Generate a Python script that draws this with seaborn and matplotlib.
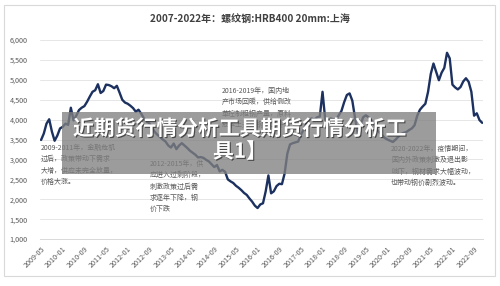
import pandas as pd
import seaborn as sns
import matplotlib.pyplot as plt
import matplotlib.patheffects as pe
from matplotlib.patches import Rectangle

# Monthly rebar price, Shanghai HRB400 20mm (yuan/ton), from 2009-05
prices = [
    3490, 3650, 3900, 4010, 3700, 3470, 3600, 3780, 3820, 3900,
    3870, 4300, 3980, 4100, 4240, 4300, 4340, 4450, 4580, 4700,
    4740, 4890, 4670, 4720, 4880, 4870, 4840, 4790, 4850, 4680,
    4500, 4430, 4400, 4350, 4290, 4200, 4250, 4150, 4030, 3950,
    3910, 3800, 3690, 3620, 3560, 3500, 3450, 3350, 3300, 3400,
    3260, 3350, 3410, 3350, 3290, 3220, 3170, 3120, 3050, 3060,
    3040, 2990, 2950, 2880, 2810, 2860, 2700, 2740, 2690, 2500,
    2450, 2410, 2340, 2290, 2230, 2160, 2110, 2020, 1940, 1840,
    1780, 1870, 1900, 2200, 2600, 2150, 2200, 2330, 2390, 2380,
    2650, 3150, 3380, 3410, 3430, 3450, 3620, 3750, 3920, 4010,
    4030, 4000, 4060, 4080, 4700, 4000, 3910, 4030, 4010, 3990,
    4110, 4220, 4440, 4620, 4660, 4480, 4050, 3660, 3860, 4060,
    4110, 4060, 3990, 3880, 3760, 3680, 3610, 3540, 3500, 3470,
    3440, 3500, 3570, 3640, 3670, 3690, 3740, 3780, 3860, 4100,
    4250, 4330, 4400, 4700, 5150, 5410, 5200, 4990, 5180, 5300,
    5680, 5540, 4880, 4810, 4760, 4820, 4960, 5040, 4950, 4700,
    4100, 4160, 3990, 3920,
]
months = pd.period_range("2009-05", periods=len(prices), freq="M").strftime("%Y-%m").tolist()

y_ticks = [1000, 1500, 2000, 2500, 3000, 3500, 4000, 4500, 5000, 5500, 6000]

title = "2007-2022年：螺纹钢:HRB400 20mm:上海"
notes = [
    "2009-2011年，金融危机\n过后，政策带动下需求\n大增，供应未完全放量，\n价格大涨。",
    "2012-2015年，供\n应进入过剩阶段，\n刺激政策过后需\n求逐年下降，钢\n价下跌",
    "2016-2019年，国内地\n产市场回暖，供给侧改\n革控制粗钢产量，原料\n成本上升，钢价回升。",
    "2020-2022年，疫情期间，\n国内外政策刺激及退出影\n响下，钢材需求大幅波动，\n也带动钢价剧烈波动。",
]
banner = "近期货行情分析工具期货行情分析工\n具1】"

df = pd.DataFrame({"idx": range(len(prices)), "month": months, "price": prices})

sns.set_theme(style="white")
plt.rcParams["font.family"] = ["Noto Sans CJK SC", "DejaVu Sans"]

fig = plt.figure(figsize=(5, 2.86), dpi=100)
ax = fig.add_axes([0.08, 0.164, 0.886, 0.696])

sns.lineplot(data=df, x="idx", y="price", ax=ax, color="#1c315f", linewidth=1.7)

ax.set_ylim(1000, 6000)
ax.set_xlim(-0.4, 163.3)
ax.set_yticks(y_ticks)
ax.set_yticklabels([f"{v:,}" for v in y_ticks], fontsize=5.2, color="#595959")
tick_pos = list(range(0, len(prices), 8))
ax.set_xticks(tick_pos)
ax.set_xticklabels([months[i] for i in tick_pos], rotation=45, ha="right",
                   rotation_mode="anchor", fontsize=5.2, color="#595959")
ax.tick_params(axis="y", length=0, pad=9)
ax.tick_params(axis="x", length=0, pad=4)
ax.grid(axis="y", color="#e6e6e6", linewidth=0.7)
for side in ["top", "right", "left"]:
    ax.spines[side].set_visible(False)
ax.spines["bottom"].set_color("#d9d9d9")
ax.spines["bottom"].set_linewidth(0.7)
ax.set_xlabel("")
ax.set_ylabel("")

fig.text(0.5, 0.93, title, ha="center", va="center", fontsize=7.2,
         color="#404040", fontweight="bold")

# annotation boxes (figure coords from pixel positions)
def px(x, y):
    return x / 500, 1 - y / 286

note_pos = [(41, 144), (150, 160), (222, 87), (391, 145)]
for txt, (x, y) in zip(notes, note_pos):
    fig.text(*px(x, y), txt, ha="left", va="top", fontsize=5.0,
             color="#595959", linespacing=1.55)

# outer frame
fig.patches.append(Rectangle((4 / 500, 1 - 276 / 286), 491 / 500, 271 / 286,
                             transform=fig.transFigure, fill=False,
                             edgecolor="#d9d9d9", linewidth=0.8))

# grey watermark banner over the chart
fig.patches.append(Rectangle((62 / 500, 1 - 174 / 286), 374 / 500, 62 / 286,
                             transform=fig.transFigure, facecolor="#808080",
                             alpha=0.78, edgecolor="none", zorder=5))
fig.text(*px(240, 140), banner, ha="center", va="center", fontsize=15,
         fontweight="bold", color="white", linespacing=1.1, zorder=6,
         path_effects=[pe.withSimplePatchShadow(offset=(0.8, -0.8), shadow_rgbFace="#333333", alpha=0.8)])

plt.savefig("out.png", dpi=100)
